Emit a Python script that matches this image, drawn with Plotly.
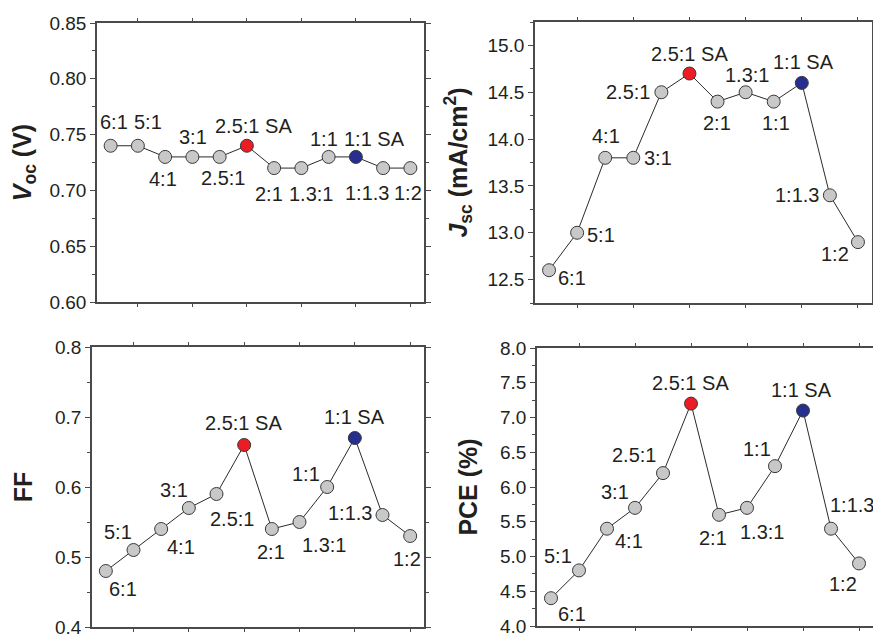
import plotly.graph_objects as go

ratios = ["6:1", "5:1", "4:1", "3:1", "2.5:1", "2.5:1 SA", "2:1", "1.3:1", "1:1", "1:1 SA", "1:1.3", "1:2"]
voc = [0.74, 0.74, 0.73, 0.73, 0.73, 0.74, 0.72, 0.72, 0.73, 0.73, 0.72, 0.72]
jsc = [12.6, 13.0, 13.8, 13.8, 14.5, 14.7, 14.4, 14.5, 14.4, 14.6, 13.4, 12.9]
ff = [0.48, 0.51, 0.54, 0.57, 0.59, 0.66, 0.54, 0.55, 0.60, 0.67, 0.56, 0.53]
pce = [4.4, 4.8, 5.4, 5.7, 6.2, 7.2, 5.6, 5.7, 6.3, 7.1, 5.4, 4.9]

GRAY, RED, BLUE = "#c8c8c8", "#ec1c24", "#262e8f"
marker_colors = [RED if r == "2.5:1 SA" else BLUE if r == "1:1 SA" else GRAY for r in ratios]

# label offsets (dx right, dy down) in pixels, per panel
off_voc = [(3, -24), (10, -24), (-2, 22), (1, -20), (3, 21), (7, -20), (-5, 26), (10, 26), (-5, -18), (19, -18), (-16, 25), (-2, 25)]
off_jsc = [(23, 8), (24, 2), (1, -22), (25, 0), (-33, 0), (0, -20), (-1, 21), (1, -17), (2, 21), (2, -21), (-33, 0), (-23, 12)]
off_ff = [(17, 18), (-16, -18), (20, 18), (-15, -18), (15, 25), (-1, -22), (-1, 23), (24, 23), (-21, -13), (0, -21), (-33, -2), (-3, 23)]
off_pce = [(21, 16), (-21, -14), (22, 12), (-20, -16), (-29, -18), (-1, -21), (-6, 23), (15, 24), (-18, -17), (-2, -21), (21, -24), (-16, 21)]

W, H = 873, 634
panels = [
    dict(vals=voc, off=off_voc, xd=[97 / W, 424 / W], yd=[1 - 302 / H, 1 - 23 / H],
         yr=[0.60, 0.85], dt=0.05, fmt=".2f", so=11,
         title="<b><i>V</i><sub>oc</sub> (V)</b>"),
    dict(vals=jsc, off=off_jsc, xd=[535 / W, 872 / W], yd=[1 - 303 / H, 1 - 22 / H],
         yr=[12.25, 15.25], dt=0.5, fmt=".1f", so=13,
         title="<b><i>J</i><sub>sc</sub> (mA/cm<sup>2</sup>)</b>"),
    dict(vals=ff, off=off_ff, xd=[92 / W, 424 / W], yd=[1 - 627 / H, 1 - 347 / H],
         yr=[0.4, 0.8], dt=0.1, fmt=".1f", so=15, title="<b>FF</b>"),
    dict(vals=pce, off=off_pce, xd=[537 / W, 1.0], yd=[1 - 626 / H, 1 - 348 / H],
         yr=[4.0, 8.0], dt=0.5, fmt=".1f", so=15, title="<b>PCE (%)</b>"),
]

fig = go.Figure()
FONT = "Liberation Sans, Arial, sans-serif"
AXC = "#4a4a4a"
annotations = []
for i, p in enumerate(panels, start=1):
    xa = "x" if i == 1 else f"x{i}"
    ya = "y" if i == 1 else f"y{i}"
    fig.add_trace(go.Scatter(
        x=ratios, y=p["vals"], xaxis=xa, yaxis=ya, mode="lines+markers",
        line=dict(color="#2a2a2a", width=1),
        marker=dict(size=13, color=marker_colors, line=dict(color="#3a3a3a", width=1)),
        showlegend=False, hoverinfo="x+y", cliponaxis=False))
    for j, (r, v) in enumerate(zip(ratios, p["vals"])):
        dx, dy = p["off"][j]
        annotations.append(dict(x=r, y=v, xref=xa, yref=ya, text=r, showarrow=False,
                                xshift=dx, yshift=-dy,
                                font=dict(family=FONT, size=20, color="#231f20")))
    suffix = "" if i == 1 else str(i)
    fig.layout["xaxis" + suffix] = dict(
        domain=p["xd"], anchor=ya, range=[-0.5, 11.5], type="category",
        showticklabels=False, tickvals=ratios[1::2], ticks="outside", ticklen=3,
        tickcolor=AXC, showline=True, linecolor=AXC, linewidth=1.5, mirror="ticks",
        showgrid=False, zeroline=False, fixedrange=True, automargin=False)
    fig.layout["yaxis" + suffix] = dict(
        domain=p["yd"], anchor=xa, range=p["yr"], dtick=p["dt"], tick0=0,
        tickformat=p["fmt"], ticks="outside", ticklen=5, tickwidth=1, tickcolor=AXC,
        minor=dict(ticks="outside", ticklen=3, tickcolor=AXC, dtick=p["dt"] / 2),
        showline=True, linecolor=AXC, linewidth=1.5, mirror="ticks",
        showgrid=False, zeroline=False, automargin=False, ticklabeloverflow="allow",
        tickfont=dict(family=FONT, size=19, color="#231f20"),
        title=dict(text=p["title"], font=dict(family=FONT, size=25, color="#231f20"),
                   standoff=p["so"]))

fig.update_layout(width=W, height=H, margin=dict(l=0, r=0, t=0, b=0, autoexpand=False),
                  paper_bgcolor="white", plot_bgcolor="white",
                  annotations=annotations, font=dict(family=FONT))
fig.write_html("out.html", config={"displayModeBar": False},
               post_script="document.body.style.margin='0';document.body.style.overflow='hidden';")
